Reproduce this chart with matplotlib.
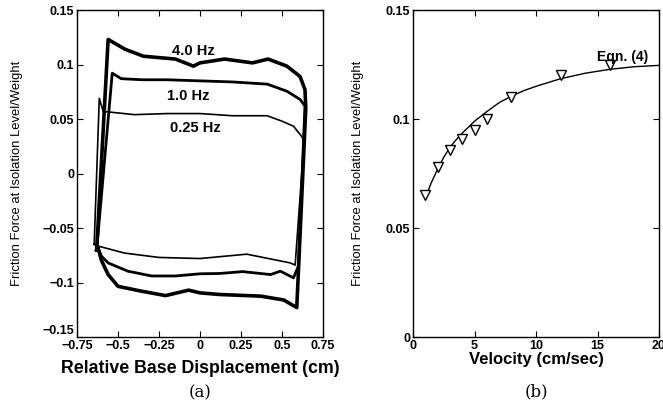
import numpy as np
import matplotlib
matplotlib.use("Agg")
import matplotlib.pyplot as plt

plt.rcParams['font.family'] = ['Liberation Sans', 'DejaVu Sans']

# (a) hysteresis loops, one cycle each
x_4hz = [-0.63, -0.56, -0.457, -0.345, -0.15, -0.04, 0.0, 0.15, 0.32, 0.415, 0.53,
         0.61, 0.64, 0.645, 0.59, 0.51, 0.37, 0.12, 0.0, -0.07, -0.21, -0.355,
         -0.5, -0.56, -0.6, -0.624, -0.63]
y_4hz = [-0.07, 0.123, 0.114, 0.1076, 0.105, 0.0985, 0.1015, 0.105, 0.1015, 0.105, 0.0985,
         0.089, 0.077, 0.06, -0.123, -0.116, -0.1125, -0.111, -0.1095, -0.107, -0.112, -0.108,
         -0.1035, -0.0927, -0.08, -0.067, -0.07]

x_1hz = [-0.63, -0.535, -0.48, -0.35, -0.2, 0.0, 0.2, 0.41, 0.53, 0.61, 0.64,
         0.6, 0.57, 0.49, 0.43, 0.26, 0.12, 0.0, -0.15, -0.295, -0.44, -0.56,
         -0.6, -0.624, -0.63]
y_1hz = [-0.07, 0.092, 0.087, 0.086, 0.086, 0.085, 0.084, 0.082, 0.0755, 0.068, 0.062,
         -0.085, -0.0957, -0.0896, -0.0927, -0.090, -0.0917, -0.092, -0.094, -0.094, -0.0896, -0.082,
         -0.076, -0.068, -0.07]

x_025hz = [-0.645, -0.614, -0.59, -0.4, -0.2, 0.0, 0.2, 0.41, 0.5, 0.57, 0.62, 0.635,
           0.58, 0.55, 0.285, 0.0, -0.25, -0.46, -0.61, -0.645]
y_025hz = [-0.065, 0.069, 0.057, 0.054, 0.055, 0.055, 0.053, 0.053, 0.048, 0.0434, 0.034, 0.03,
           -0.084, -0.082, -0.074, -0.078, -0.077, -0.073, -0.067, -0.065]

vel = [1, 2, 3, 4, 5, 6, 8, 12, 16]
fric = [0.065, 0.078, 0.086, 0.091, 0.095, 0.100, 0.110, 0.120, 0.125]
vel_eq = [1, 1.5, 2, 2.5, 3, 3.5, 4, 5, 6, 7, 8, 9, 10, 12, 14, 16, 18, 20]
fric_eq = [0.0640, 0.0710, 0.0770, 0.0825, 0.0870, 0.0905, 0.0935, 0.0990, 0.1034,
           0.1075, 0.1105, 0.1130, 0.1150, 0.1185, 0.1210, 0.1228, 0.1240, 0.1246]

ylab = "Friction Force at Isolation Level/Weight"

fig = plt.figure(figsize=(6.63, 4.12), dpi=100)
ax1 = fig.add_axes([0.1161, 0.182, 0.3711, 0.7937])
ax2 = fig.add_axes([0.623, 0.182, 0.371, 0.7937])

ax1.plot(x_4hz, y_4hz, color='black', lw=2.6)
ax1.plot(x_1hz, y_1hz, color='black', lw=2.0)
ax1.plot(x_025hz, y_025hz, color='black', lw=1.2)
ax1.text(-0.04, 0.112, "4.0 Hz", ha='center', va='center', fontsize=10.5, fontweight='bold')
ax1.text(-0.07, 0.071, "1.0 Hz", ha='center', va='center', fontsize=10.5, fontweight='bold')
ax1.text(-0.03, 0.042, "0.25 Hz", ha='center', va='center', fontsize=10.5, fontweight='bold')
ax1.set_xlim(-0.75, 0.75)
ax1.set_ylim(-0.15, 0.15)
ax1.set_xticks([-0.75, -0.5, -0.25, 0, 0.25, 0.5, 0.75])
ax1.set_xticklabels(["\u22120.75", "\u22120.5", "\u22120.25", "0", "0.25", "0.5", "0.75"])
ax1.set_yticks([-0.15, -0.1, -0.05, 0, 0.05, 0.1, 0.15])
ax1.set_yticklabels(["\u22120.15", "\u22120.1", "\u22120.05", "0", "0.05", "0.1", "0.15"])
ax1.set_xlabel("Relative Base Displacement (cm)", fontsize=12.8, fontweight='bold', labelpad=6)
ax1.set_ylabel(ylab, fontsize=9.4, labelpad=14)

ax2.plot(vel_eq, fric_eq, color='black', lw=1.0)
ax2.plot(vel, fric, linestyle='none', marker='v', markersize=7,
         markerfacecolor='white', markeredgecolor='black', markeredgewidth=1.0)
ax2.text(17.0, 0.1285, "Eqn. (4)", ha='center', va='center', fontsize=10, fontweight='bold')
ax2.set_xlim(0, 20)
ax2.set_ylim(0, 0.15)
ax2.set_xticks([0, 5, 10, 15, 20])
ax2.set_xticklabels(["0", "5", "10", "15", "20"])
ax2.set_yticks([0, 0.05, 0.1, 0.15])
ax2.set_yticklabels(["0", "0.05", "0.1", "0.15"])
ax2.set_xlabel("Velocity (cm/sec)", fontsize=12, fontweight='bold', labelpad=0)
ax2.set_ylabel(ylab, fontsize=9.4, labelpad=16)

for ax in (ax1, ax2):
    ax.tick_params(direction='in', top=True, right=True, length=4, width=0.8,
                   labelsize=9, pad=2)
    for lab in ax.get_xticklabels() + ax.get_yticklabels():
        lab.set_fontweight('bold')
    for s in ax.spines.values():
        s.set_linewidth(1.0)

# shift the corner label up so it does not collide with -0.75
ax1.get_yticklabels()[0].set_verticalalignment('bottom')

fig.text(0.3017, 0.046, "(a)", ha='center', va='center', fontsize=12, family='DejaVu Serif')
fig.text(0.8086, 0.049, "(b)", ha='center', va='center', fontsize=12, family='DejaVu Serif')

fig.savefig("out.png", dpi=100)
